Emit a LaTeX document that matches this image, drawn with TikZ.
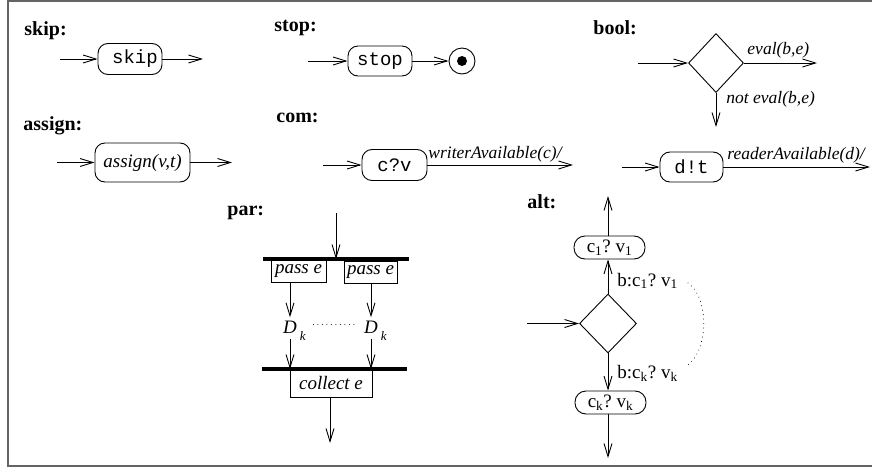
\documentclass[tikz,border=0pt]{standalone}
\usepackage{fontspec}
\setmainfont{Liberation Serif}
\setmonofont{Liberation Mono}
\usetikzlibrary{arrows.meta,shapes.geometric}
\newcommand\fA{\fontsize{19}{22}\selectfont}
\newcommand\fB{\fontsize{20}{24}\selectfont}
\newcommand\fC{\fontsize{17.5}{21}\selectfont}
\newcommand\fD{\fontsize{13}{15}\selectfont}
\definecolor{framegray}{RGB}{100,100,100}
\begin{document}
\begin{tikzpicture}[x=1pt,y=-1pt,
  line width=0.9pt,
  arr/.style={-{Straight Barb[length=13pt,width=8pt,line width=0.9pt]}},
  state/.style={draw, rounded corners=10pt, inner sep=0pt, font=\fA\ttfamily},
  rstate/.style={draw, rounded corners=11pt, inner sep=0pt, font=\fA},
  ttl/.style={anchor=base west, font=\fB\bfseries, inner sep=0pt},
  elab/.style={anchor=base west, font=\fC\itshape, inner sep=0pt},
  rlab/.style={anchor=base west, font=\fA, inner sep=0pt},
  dia/.style={draw, diamond, inner sep=0pt},
  bar/.style={line width=3.5pt},
  pbox/.style={draw, inner sep=0pt, font=\fA\itshape},
  dvar/.style={inner xsep=0pt, inner ysep=3pt, font=\fontsize{19}{21}\selectfont\itshape},
  dots/.style={line width=1pt, dash pattern=on 0.01pt off 4.5pt, line cap=round},
]
\useasboundingbox (0,0) rectangle (872,468);
\draw[framegray, line width=2pt] (872,1.5) -- (7.5,1.5) -- (7.5,466) -- (872,466);

% titles
\node[ttl] (tskip) at (24,36) {skip:};
\node[ttl] (tassign) at (23,130) {assign:};
\node[ttl] (tstop) at (274,32) {stop:};
\node[ttl] (tcom) at (276,123) {com:};
\node[ttl] (tbool) at (593,35) {bool:};
\node[ttl] (tpar) at (227,215) {par:};
\node[ttl] (talt) at (527,208) {alt:};

% skip
\coordinate (skin) at (60,59);
\node[state, minimum width=64pt, minimum height=31pt] (skipn) at (130,59) {\hspace{10pt}skip};
\coordinate (skout) at (203,59);
\draw[arr] (skin) -- (skipn);
\draw[arr] (skipn) -- (skout);

% assign
\coordinate (asin) at (57,162.5);
\node[state, font=\fA\itshape, minimum width=95pt, minimum height=39pt] (assignn) at (142.5,162.5) {assign(v,t)};
\coordinate (asout) at (232,162.5);
\draw[arr] (asin) -- (assignn);
\draw[arr] (assignn) -- (asout);

% stop
\coordinate (stin) at (308,61);
\node[state, minimum width=64pt, minimum height=30pt] (stopn) at (380,61) {stop};
\node[draw, circle, minimum size=26pt, inner sep=0pt] (endc) at (462,61) {};
\fill (endc.center) circle (5pt);
\draw[arr] (stin) -- (stopn);
\draw[arr] (stopn) -- (endc);

% com c?v
\coordinate (cvin) at (323,165);
\node[state, minimum width=65pt, minimum height=31pt] (cvn) at (394.5,165) {c?v};
\coordinate (cvout) at (573,165);
\draw[arr] (cvin) -- (cvn);
\draw[arr] (cvn) -- (cvout);
\node[elab] (cvlab) at (428,158) {writerAvailable(c)/};

% com d!t
\coordinate (dtin) at (622,167);
\node[state, minimum width=63pt, minimum height=30pt] (dtn) at (691.5,167) {d!t};
\coordinate (dtout) at (870,167);
\draw[arr] (dtin) -- (dtn);
\draw[arr] (dtn) -- (dtout);
\node[elab] (dtlab) at (727,159) {readerAvailable(d)/};

% bool
\coordinate (bin) at (638,63);
\node[dia, minimum width=55pt, minimum height=59pt] (boold) at (716,63) {};
\coordinate (bout) at (817,63);
\coordinate (bdown) at (716,127);
\draw[arr] (bin) -- (boold);
\draw[arr] (boold.east) -- (bout);
\draw[arr] (boold.south) -- (bdown);
\node[elab] (evlab) at (747,55) {eval(b,e)};
\node[elab] (nevlab) at (726,103) {not eval(b,e)};

% par
\coordinate (parin) at (336,213);
\coordinate (topL) at (263,259);
\coordinate (topR) at (409,259);
\coordinate (botL) at (262,369);
\coordinate (botR) at (407,369);
\draw[bar] (topL) -- (topR);
\draw[bar] (botL) -- (botR);
\draw[arr] (parin) -- (parin |- topL);
\node[pbox, minimum width=55pt, minimum height=22pt] (passL) at (298.5,271.5) {pass e};
\node[pbox, minimum width=53pt, minimum height=22pt] (passR) at (370.5,272) {pass e};
\node[dvar] (dl) at (290,327) {D\rlap{\smash{\raisebox{-7pt}{\hspace{3pt}\fD k}}}};
\node[dvar] (dr) at (371,327) {D\rlap{\smash{\raisebox{-7pt}{\hspace{3pt}\fD k}}}};
\draw[arr] (dl |- passL.south) -- (dl.north);
\draw[arr] (dr |- passR.south) -- (dr.north);
\draw[arr] ([yshift=-2pt]dl.south) -- (dl |- botL);
\draw[arr] ([yshift=-2pt]dr.south) -- (dr |- botR);
\draw[dots] ([xshift=16pt,yshift=3pt]dl.east) -- ([xshift=-8pt,yshift=3pt]dr.west);
\node[pbox, minimum width=82pt, minimum height=28pt] (collect) at (331,383) {collect e};
\coordinate (parout) at (330,443);
\draw[arr] (parout |- collect.south) -- (parout);

% alt
\coordinate (altup) at (608,196);
\node[rstate, minimum width=71pt, minimum height=23pt] (c1n) at (609.5,247.5) {c\textsubscript{1}?~v\textsubscript{1}};
\node[dia, minimum width=57pt, minimum height=59pt] (altd) at (608,323.5) {};
\node[rstate, minimum width=71pt, minimum height=23pt] (ckn) at (610.5,402.5) {c\textsubscript{k}?~v\textsubscript{k}};
\coordinate (altin) at (527,323.5);
\coordinate (altout) at (608,458);
\draw[arr] (altd.north |- c1n.north) -- (altup);
\draw[arr] (altd.north) -- (altd.north |- c1n.south);
\draw[arr] (altin) -- (altd.west);
\draw[arr] (altd.south) -- (altd.south |- ckn.north);
\draw[arr] (altd.south |- ckn.south) -- (altout);
\node[rlab] (l1) at (617,286) {b:c\textsubscript{1}?~v\textsubscript{1}};
\node[rlab] (lk) at (617,378) {b:c\textsubscript{k}?~v\textsubscript{k}};
\coordinate (dA) at (688,283);
\coordinate (dB) at (685,367);
\draw[dots] (dA) .. controls (709,297) and (710,352) .. (dB);
\end{tikzpicture}
\end{document}
